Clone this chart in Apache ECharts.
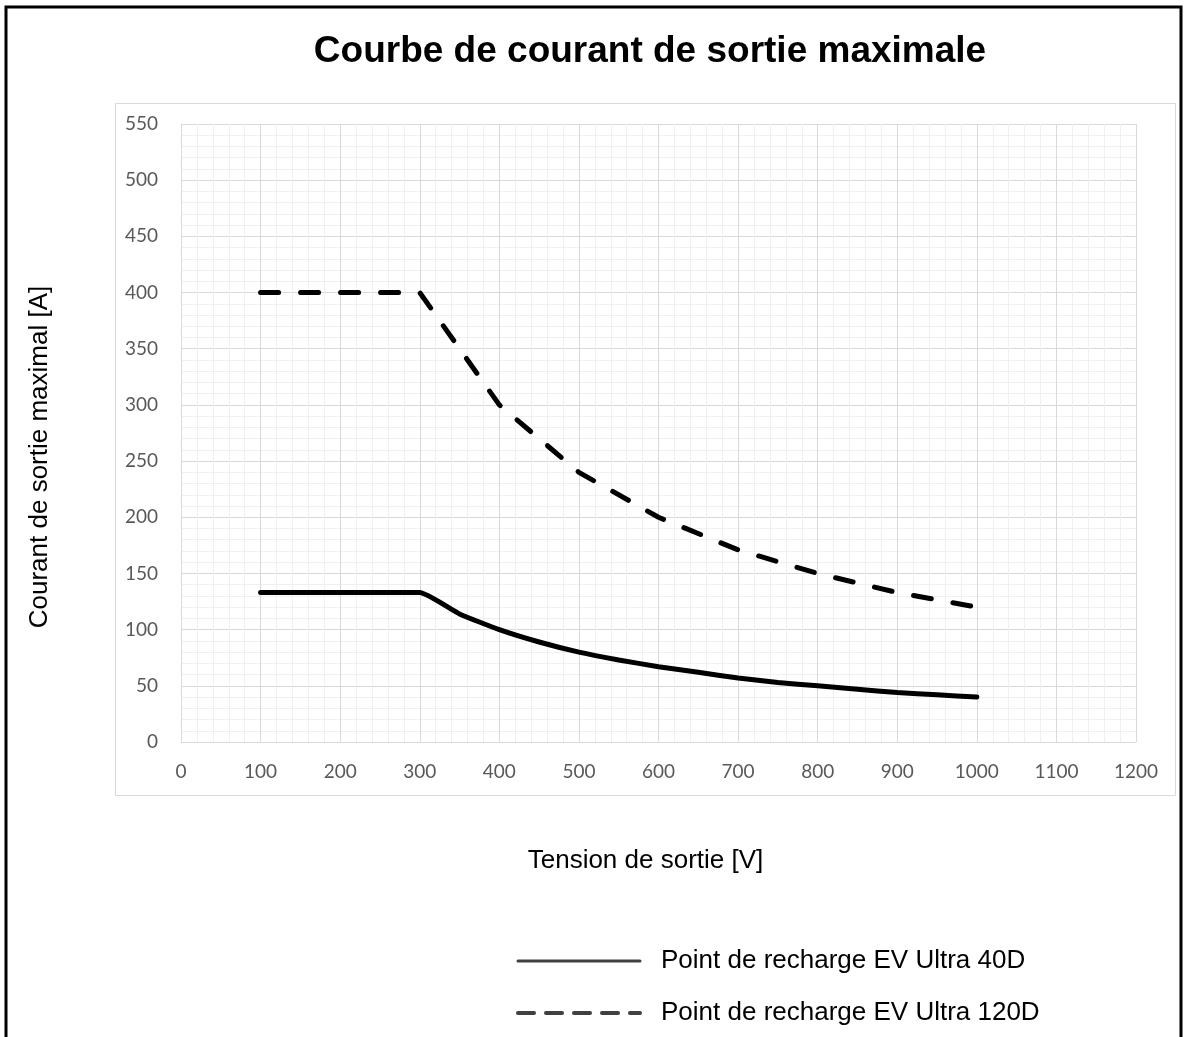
<!DOCTYPE html>
<html>
<head>
<meta charset="utf-8">
<script src="https://cdn.jsdelivr.net/npm/echarts@6/dist/echarts.min.js"></script>
<style>
html, body { margin: 0; padding: 0; background: #fff; }
#chart { width: 1186px; height: 1037px; }
</style>
</head>
<body>
<div id="chart"></div>
<script>
// tension (V) / courant (A)
var tension40 = [100, 150, 200, 250, 300, 350, 400, 450, 500, 550, 600, 650, 700, 750, 800, 850, 900, 950, 1000];
var courant40 = [133, 133, 133, 133, 133, 114, 100, 89, 80, 73, 67, 62, 57, 53, 50, 47, 44, 42, 40];
var tension120 = [100, 200, 300, 400, 500, 600, 700, 800, 900, 1000];
var courant120 = [400, 400, 400, 300, 240, 200, 171, 150, 133, 120];
var nom40 = 'Point de recharge EV Ultra 40D';
var nom120 = 'Point de recharge EV Ultra 120D';

function paires(xs, ys) {
  var out = [];
  for (var i = 0; i < xs.length; i++) out.push([xs[i], ys[i]]);
  return out;
}

var chart = echarts.init(document.getElementById('chart'));
chart.setOption({
  backgroundColor: '#fff',
  animation: false,
  title: {
    text: 'Courbe de courant de sortie maximale',
    left: 645,
    textAlign: 'center',
    top: 28,
    textStyle: { fontFamily: 'Liberation Sans', fontSize: 37, fontWeight: 'bold', color: '#000' }
  },
  graphic: [
    { type: 'rect', shape: { x: 6, y: 7, width: 1175, height: 1050 }, style: { fill: 'none', stroke: '#000', lineWidth: 3 }, z: -1 },
    { type: 'rect', shape: { x: 115.5, y: 103.5, width: 1060, height: 692 }, style: { fill: 'none', stroke: '#d9d9d9', lineWidth: 1 }, z: -1 }
  ],
  grid: { left: 181, right: 50, top: 124, bottom: 295 },
  legend: {
    orient: 'vertical',
    left: 511,
    top: 943,
    width: 600,
    height: 92,
    itemWidth: 122,
    itemHeight: 20,
    itemGap: 26,
    itemStyle: { opacity: 0 },
    textStyle: { fontFamily: 'Liberation Sans', fontSize: 26, color: '#000', padding: [0, 0, 0, 16] },
    data: [
      { name: nom40, itemStyle: { opacity: 0 }, lineStyle: { color: '#404040', width: 3, type: 'solid' } },
      { name: nom120, itemStyle: { opacity: 0 }, lineStyle: { color: '#404040', width: 4, type: [16, 12] } }
    ]
  },
  xAxis: {
    type: 'value',
    min: 0, max: 1200, interval: 100,
    name: 'Tension de sortie [V]',
    nameLocation: 'middle',
    nameGap: 106,
    nameTextStyle: { fontFamily: 'Liberation Sans', fontSize: 26, color: '#000', padding: [0, 26, 0, 0] },
    axisLine: { show: false },
    axisTick: { show: false },
    axisLabel: { fontFamily: 'Lato', fontSize: 19, color: '#595959', margin: 20, formatter: function (v) { return String(v); } },
    splitLine: { show: true, lineStyle: { color: '#d9d9d9', width: 1 } },
    minorTick: { show: false, splitNumber: 5 },
    minorSplitLine: { show: true, lineStyle: { color: '#f0f0f0', width: 1 } }
  },
  yAxis: {
    type: 'value',
    min: 0, max: 550, interval: 50,
    name: 'Courant de sortie maximal [A]',
    nameLocation: 'middle',
    nameRotate: 90,
    nameGap: 128,
    nameTextStyle: { fontFamily: 'Liberation Sans', fontSize: 26, color: '#000', padding: [0, 48, 0, 0] },
    axisLine: { show: false },
    axisTick: { show: false },
    axisLabel: { fontFamily: 'Lato', fontSize: 19, color: '#595959', margin: 23 },
    splitLine: { show: true, lineStyle: { color: '#d9d9d9', width: 1 } },
    minorTick: { show: false, splitNumber: 5 },
    minorSplitLine: { show: true, lineStyle: { color: '#f0f0f0', width: 1 } }
  },
  series: [
    {
      name: nom40,
      type: 'line',
      data: paires(tension40, courant40),
      symbol: 'none',
      smooth: 0.15,
      lineStyle: { color: '#000', width: 5, cap: 'round' }
    },
    {
      name: nom120,
      type: 'line',
      data: paires(tension120, courant120),
      symbol: 'none',
      smooth: false,
      lineStyle: { color: '#000', width: 5, type: [18, 22], cap: 'round' }
    }
  ]
});
</script>
</body>
</html>
